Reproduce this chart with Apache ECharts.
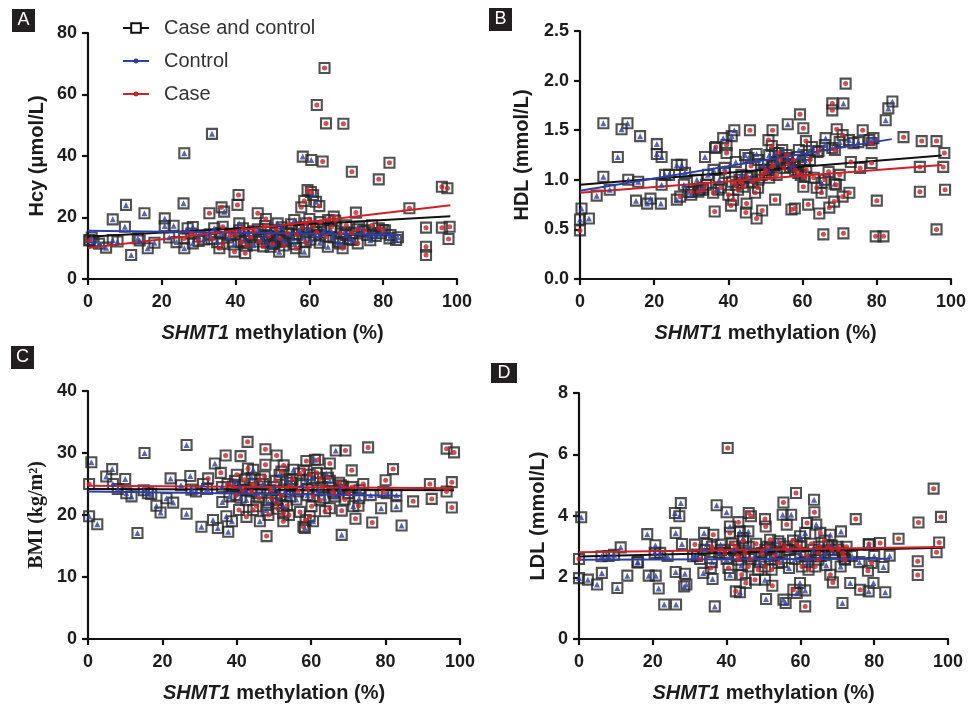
<!DOCTYPE html>
<html>
<head>
<meta charset="utf-8">
<title>SHMT1 methylation scatter</title>
<script src="https://cdn.jsdelivr.net/npm/echarts@6/dist/echarts.min.js"></script>
<style>
  html, body { margin: 0; padding: 0; background: #fff; }
  #chart { width: 970px; height: 708px; }
</style>
</head>
<body>
<div id="chart"></div>
<script>
// ---- data (x = SHMT1 methylation %, y = measure) ----
var hcyControl = [
  [0.4,12.7],[1.5,12.3],[1,13.5],[3,11.5],[4.9,10.2],[6.7,12.7],[6.7,19.4],[8,12.2],[10,17],[10.3,24.1],[11.7,7.8],[13.5,13.2],[14,12.5],[15.3,21.4],[16.2,10],[18,11.8],[20.8,19.7],[20.8,17.2],[22,13.5],[23.2,17.3],[24,12],[25.9,24.6],[26.1,10],[26.1,40.9],[27,16.5],[28.4,16.9],[28.4,11.6],[30,13.8],[31.5,12.9],[33,14.5],[33.6,47.2],[34.2,16.5],[35,12],[36,15],[36.9,21.9],[38,13.5],[39.5,11.2],[41,18.1],[41,15.8],[42.5,12.4],[43.5,14.6],[44.8,11],[46,16.2],[47.2,13.1],[48.2,14.3],[48.5,12],[49.5,10.5],[49.5,15.3],[50.5,11.6],[51.2,13.9],[51.4,18.1],[51.8,8.9],[52.5,16.8],[52.8,12.7],[53.6,12.2],[54.5,14.7],[55.4,13.2],[55.9,19.2],[56,11.3],[57.2,15.9],[58.2,39.8],[58.4,13.4],[58.6,8.9],[59.5,16.5],[60.3,12.8],[60.5,38.7],[61,27.3],[61.5,14.2],[61.8,25.1],[62.7,14.3],[62.8,11.8],[64,16],[65,10.5],[65.8,15.9],[66.5,13.5],[67.8,12.1],[68.3,11.6],[69.5,15.2],[69.9,14.3],[71,13],[71.7,12.7],[73.5,17],[74.5,15.5],[75.7,14.3],[76.5,12.6],[77.1,14.9],[78,14],[79.4,14.9],[80.5,15.8],[81.7,13.2],[82,14.3],[83.5,12.7],[84,13.6]
];
var hcyCase = [
  [0.4,12.5],[26,13.2],[28,14.8],[30,12.4],[32.9,21.4],[33.5,13],[35.6,10],[36.2,23.3],[36.5,17],[36.5,11.5],[38.5,14.2],[39.7,8.9],[40,14.5],[40.5,24.1],[40.8,27.3],[41.5,12],[42,16.5],[42.6,8.4],[43,10.8],[44,13.6],[45,15.5],[46,21.4],[46.5,12.2],[47.5,10.6],[48,17.2],[48.2,19.5],[49,14],[50,11.5],[51,16],[52,13.2],[53,10.9],[54,15],[55,17.8],[56.4,10],[56.5,14.5],[57.8,23.3],[58,16.8],[58.6,25.4],[59,12],[59.1,18.1],[59.5,28.9],[60,19.5],[60.4,28.3],[61,17],[62,15.2],[62,56.6],[62.7,23.7],[63,18.5],[63.6,38.2],[64.5,50.6],[64.1,68.6],[64.5,13.8],[65.1,19.2],[66,16.9],[66.6,20.3],[67,19],[68.5,14.8],[69,10],[69.2,50.5],[70,17.5],[71.5,15],[71.5,34.9],[72.6,21.6],[73,16.2],[73.1,11.6],[75,15.8],[77,17.5],[78.8,16.5],[78.8,32.4],[79.9,15.9],[81.7,37.8],[87.1,23],[91.6,16.7],[91.6,10.5],[91.6,7.8],[95.9,16.7],[95.9,30],[97.4,29.5],[97.7,13],[98,17]
];
var hcyFitAll = [[0,13.7],[98.2,20.4]];
var hcyFitControl = [[0,15.7],[84.2,14.4]];
var hcyFitCase = [[0,10.1],[98.2,24.0]];

var hdlControl = [
  [0,0.6],[0.4,0.71],[2.4,0.61],[4.5,0.84],[6.3,1.57],[6.3,1.03],[8,0.9],[10.2,1.23],[11.2,1.51],[12.8,1.57],[13,1.0],[15.1,0.79],[15.7,0.98],[16.2,1.44],[18.1,0.76],[19,0.81],[20.7,1.36],[20.7,1.26],[21.8,0.76],[22,1.23],[22,0.95],[22.9,1.05],[24,1.05],[26.1,0.8],[26.1,1.15],[27.4,1.15],[28,0.95],[28.3,1.07],[29.2,0.88],[30,0.85],[31.5,1.0],[32.3,0.9],[33,0.92],[33.7,1.23],[34.5,1.05],[36,1.1],[36.4,1.32],[37.3,0.9],[37.5,1.0],[38.6,1.42],[39,1.12],[40.9,1.44],[41.6,1.5],[42,1.18],[43.5,1.05],[44.5,1.25],[45.4,1.22],[46,1.02],[47.6,1.26],[48,1.2],[49.5,1.15],[50.8,1.1],[51,1.25],[52.6,1.27],[53,1.18],[54.5,1.3],[56,1.56],[56,1.22],[56.6,1.13],[57.5,1.15],[58.8,1.23],[59,1.3],[60.6,1.2],[61,1.25],[62.5,1.33],[64,1.28],[65.1,0.97],[66,1.35],[66.2,1.42],[68,1.32],[68.6,0.96],[70,1.38],[71,1.77],[72.5,1.4],[73.7,1.37],[75,1.38],[78,1.4],[79.1,1.42],[82.4,1.6],[83.1,1.72],[84.2,1.79]
];
var hdlCase = [
  [0,0.49],[27,0.83],[30,0.88],[31.9,0.88],[33.2,0.9],[34,0.95],[35.9,0.87],[36.3,0.68],[36.6,1.33],[38,0.92],[39.1,1.07],[39.5,1.35],[39.5,1.27],[40,0.85],[40.7,0.74],[41,0.98],[41.3,0.8],[42,0.95],[42.6,0.9],[43,1.0],[43.6,0.97],[44,0.93],[44.7,0.67],[44.9,0.76],[45,1.03],[45.8,1.5],[46.1,1.14],[46.5,0.98],[47.2,0.87],[47.6,0.61],[48,0.92],[48.1,1.0],[49,1.05],[49.1,0.69],[49.9,1.07],[50,1.1],[50.8,1.4],[51,1.02],[51.7,1.34],[51.7,1.13],[51.9,1.5],[52,1.15],[52.6,0.8],[53,1.05],[53.5,1.27],[54,1.2],[55,1.12],[55.7,1.25],[56,1.16],[57,0.7],[57.5,1.2],[57.9,0.71],[58,1.1],[58.8,1.07],[59.3,1.66],[59.5,1.05],[60.2,1.52],[60.2,0.93],[60.6,1.03],[60.9,1.39],[61,1.1],[61.5,0.75],[62,1.2],[63,1.02],[63.8,0.92],[64.3,1.29],[64.5,0.66],[65.1,0.87],[65.6,0.45],[66,1.0],[67,1.08],[67.2,0.72],[68,1.77],[68,1.7],[68.5,0.78],[68.7,1.3],[69,0.95],[69.2,1.51],[70,1.05],[70.8,1.45],[70.8,0.83],[71,0.46],[71.6,1.97],[72.6,0.87],[73,1.18],[75.5,1.12],[76.2,1.5],[78.6,1.17],[78.6,1.37],[79.7,0.43],[80,0.79],[81.8,0.43],[87.2,1.43],[91.6,1.13],[91.6,0.88],[92.1,1.39],[96.1,1.39],[96.1,0.5],[97.9,1.13],[98.2,1.27],[98.4,0.9]
];
var hdlFitAll = [[0,0.95],[97.5,1.245]];
var hdlFitControl = [[0,0.89],[84,1.41]];
var hdlFitCase = [[0,0.87],[97.5,1.15]];

var bmiControl = [
  [0.3,19.8],[0.9,28.5],[2.5,18.5],[4.9,26.2],[6.5,27.4],[6.7,25.0],[8,24.2],[10,25.8],[10.3,23.5],[11.7,23.0],[13.3,17.1],[15,24.0],[15.2,30.0],[16.1,23.5],[17,23.4],[18.4,21.5],[19.5,20.4],[21.1,22.7],[22.2,25.9],[22.9,22.0],[25,24.8],[26.5,31.3],[26.5,20.2],[27.5,26.3],[27.8,24.1],[29,23.8],[30.5,18.1],[30.9,25.0],[32,24.2],[33.6,19.2],[34.1,28.3],[34.9,17.9],[36,24.5],[36.1,22.1],[37.2,19.8],[37.7,17.3],[38,23.0],[38.7,19.0],[39.5,25.5],[40.8,24.6],[41,22.8],[42.5,24.0],[42.6,22.4],[44,26.0],[44.4,27.3],[45.5,23.5],[46.2,19.0],[47,25.0],[48,20.8],[48.5,22.0],[50,24.5],[50.7,22.4],[51.5,26.5],[52.5,21.4],[53,23.8],[53.4,25.7],[54.3,23.0],[54.5,25.2],[55.2,27.3],[56,22.5],[57.5,24.8],[58.3,17.9],[58.7,25.7],[59,23.2],[60.5,19.0],[60.5,26.0],[61,28.9],[62,24.0],[63.5,22.8],[64.1,26.7],[65,25.5],[66.5,23.0],[66.6,30.4],[67.7,24.1],[68,24.8],[68.2,16.8],[70,23.5],[71.3,21.4],[72.9,22.7],[73,24.0],[76,23.2],[78.8,21.1],[80.3,23.5],[82.9,23.2],[82.9,21.4],[84.3,18.3]
];
var bmiCase = [
  [0.3,25.0],[32.3,25.9],[35.7,26.8],[37,29.6],[37.5,25.0],[39,24.6],[39.9,23.2],[40,26.5],[40.6,20.8],[41,29.5],[41.5,24.0],[42.1,25.7],[42.6,19.7],[42.9,31.8],[43,27.5],[43.9,23.8],[44.4,20.8],[44.5,25.0],[45.3,21.4],[46,22.8],[46.2,25.7],[47.5,26.2],[47.7,30.6],[47.7,28.1],[48,16.6],[48.5,20.0],[49,24.0],[49.3,22.7],[50.5,25.5],[50.7,29.6],[50.7,21.9],[51,21.0],[52,27.0],[52,23.2],[52.5,19.0],[52.5,20.3],[52.6,28.0],[53.5,21.5],[54,20.0],[54.3,24.7],[55,25.8],[56.5,23.8],[56.9,26.7],[57,20.5],[57.9,18.1],[58,27.2],[58.5,19.2],[58.7,28.7],[59,24.2],[59.6,26.5],[59.6,19.8],[60.1,21.4],[60.5,23.0],[61.5,26.8],[61.9,28.9],[62.3,22.4],[62.3,25.9],[63,24.5],[63.7,20.6],[64.5,26.0],[65,28.3],[65,21.1],[65.9,23.8],[66,23.5],[67.5,25.2],[68.2,20.7],[68.6,24.6],[69,22.5],[69.2,30.4],[70,23.5],[70.9,27.2],[71,24.5],[71.9,19.4],[72.7,21.5],[74,25.0],[75.3,30.9],[76.4,18.8],[79.4,23.7],[80,25.6],[82,27.4],[87.4,22.2],[91.9,25.0],[92.4,22.6],[96.4,30.7],[96.4,23.8],[97.8,25.3],[97.8,21.2],[98.4,30.1]
];
var bmiFitAll = [[0,24.2],[98.4,24.0]];
var bmiFitControl = [[0,23.8],[84.3,23.1]];
var bmiFitCase = [[0,24.7],[98.4,24.3]];

var ldlControl = [
  [0,1.98],[0.6,3.96],[2.4,1.93],[4.9,1.77],[6.1,2.69],[6.2,2.15],[8,2.7],[9.5,2.74],[10.4,1.66],[11.3,2.98],[13.1,2.06],[15.8,2.49],[16,2.5],[18.5,3.41],[18.9,2.06],[20.5,2.8],[20.7,3.05],[20.8,2.06],[21.6,1.64],[22,2.8],[23.1,1.12],[24,2.7],[26,4.1],[26.2,3.45],[26.2,2.18],[26.3,1.12],[27.2,3.99],[27.6,4.42],[27.9,3.09],[28.5,1.71],[28.7,2.12],[29.1,1.77],[30.9,2.69],[32,2.7],[33.7,2.15],[33.9,3.45],[34,2.9],[34.7,3.09],[36,2.5],[36.2,1.95],[36.8,1.06],[37.3,4.35],[38,2.8],[38.4,3.07],[40,4.12],[40,2.6],[40.9,3.66],[40.9,2.09],[42,2.9],[43.6,1.52],[43.6,3.5],[44,2.4],[44.5,3.28],[45.9,3.5],[46,3.0],[47.5,2.7],[49,2.5],[50.4,1.93],[50.5,2.9],[50.7,1.3],[51.8,2.96],[52,2.6],[53.5,2.8],[54,3.18],[55,2.5],[55.2,4.04],[55.4,1.28],[56,1.17],[56.9,2.31],[57,2.9],[57.5,4.04],[58.5,2.6],[59,1.5],[59.9,1.82],[59.9,3.34],[60,2.8],[61.3,1.58],[61.3,3.45],[62,2.5],[63.5,2.9],[63.7,4.53],[64.3,3.72],[65.5,2.7],[66.7,2.8],[67,2.4],[68.1,3.39],[68.5,3.04],[69,2.8],[70.9,2.36],[71,3.5],[71.4,1.17],[72,2.6],[73.5,1.82],[74,2.7],[76,2.5],[78.5,1.55],[78.5,3.07],[79.8,1.82],[80,2.7],[82.5,2.34],[83,1.52],[84.2,2.71]
];
var ldlCase = [
  [0,2.6],[31.4,3.07],[32.8,2.6],[35.7,2.31],[36,3.0],[36.4,3.39],[38.5,2.9],[39.5,2.8],[40.3,6.21],[40.5,2.31],[40.9,3.45],[41.5,3.1],[42.3,3.01],[42.5,1.55],[43,2.7],[43.2,3.8],[43.2,2.58],[44.1,2.09],[44.5,3.2],[45,2.8],[45.2,1.82],[45.9,2.36],[46,4.1],[46.5,2.6],[46.6,3.99],[47.7,1.93],[48,3.1],[48.6,2.25],[49.5,2.8],[50.4,3.9],[50.4,2.36],[50.6,3.66],[51,3.0],[51.8,3.23],[52.2,2.25],[52.4,1.73],[53,2.7],[54,2.47],[54.5,3.1],[55.4,4.44],[55.8,3.01],[56.3,3.72],[56.5,2.9],[58,3.2],[58.1,1.6],[58.8,4.75],[59,3.07],[60,3.0],[60.4,2.36],[61.3,1.06],[61.5,2.7],[61.8,3.77],[62.2,2.25],[63,3.1],[63.8,4.12],[64,2.36],[64.9,2.8],[64.9,2.58],[65,3.0],[65.4,3.45],[66.5,3.2],[67.6,3.01],[68.1,2.09],[68.5,2.9],[68.8,1.84],[70,3.0],[70.3,2.91],[71.5,2.8],[71.7,2.69],[72.1,2.58],[72.5,3.0],[75,3.9],[76.2,1.6],[78.3,2.22],[78.6,3.09],[79.3,2.47],[81.6,3.12],[86.6,3.26],[91.8,2.53],[91.8,2.08],[92,3.79],[96.1,4.89],[96.9,2.82],[97.6,3.14],[98.1,3.97]
];
var ldlFitAll = [[0,2.68],[98.4,2.97]];
var ldlFitControl = [[0,2.58],[84.3,2.61]];
var ldlFitCase = [[0,2.82],[98.4,2.99]];

var panelLetters = ['A', 'B', 'C', 'D'];
var yNames = ['Hcy (μmol/L)', 'HDL (mmol/L)', 'BMI (kg/m²)', 'LDL (mmol/L)'];
var xName = '{i|SHMT1} methylation (%)';

// ---- layout ----
var SANS = 'Arial, "Liberation Sans", Helvetica, sans-serif';
var SERIF = '"Times New Roman", "Liberation Serif", serif';
var BLUE = '#2d3ea6';
var RED = '#cf1f27';
var BLACK = '#111';

var panels = [
  { grid: { left: 88, top: 33, width: 369, height: 246 }, max: 80, interval: 20, gap: 41, font: SANS,
    control: hcyControl, cases: hcyCase, fit: [hcyFitAll, hcyFitControl, hcyFitCase],
    box: [12, 9, 23, 23] },
  { grid: { left: 580, top: 31, width: 371, height: 248 }, max: 2.5, interval: 0.5, gap: 48, font: SANS, decimals: 1,
    control: hdlControl, cases: hdlCase, fit: [hdlFitAll, hdlFitControl, hdlFitCase],
    box: [489, 8, 23, 23] },
  { grid: { left: 88, top: 391, width: 372, height: 248 }, max: 40, interval: 10, gap: 41, font: SERIF,
    control: bmiControl, cases: bmiCase, fit: [bmiFitAll, bmiFitControl, bmiFitCase],
    box: [11, 346, 23, 23] },
  { grid: { left: 579, top: 393, width: 369, height: 246 }, max: 8, interval: 2, gap: 31, font: SANS,
    control: ldlControl, cases: ldlCase, fit: [ldlFitAll, ldlFitControl, ldlFitCase],
    box: [491, 363, 26, 20] }
];

var axisLine = { lineStyle: { color: BLACK, width: 2.2 } };
var axisTick = { length: 6, lineStyle: { color: BLACK, width: 2.2 } };
var tickLabel = { fontSize: 18, fontWeight: 'bold', color: '#1c1c1c', fontFamily: SANS };

function lineSeries(name, data, color, symbol, i) {
  return {
    type: 'line', name: name, data: data, xAxisIndex: i, yAxisIndex: i,
    showSymbol: false, symbol: symbol,
    lineStyle: { color: color, width: 2 },
    itemStyle: { color: color },
    emphasis: { disabled: true },
    z: 3
  };
}

var grids = [], xAxes = [], yAxes = [], series = [], graphics = [];

panels.forEach(function (p, i) {
  grids.push(p.grid);
  xAxes.push({
    type: 'value', gridIndex: i, min: 0, max: 100, interval: 20,
    axisLine: axisLine, axisTick: axisTick, splitLine: { show: false },
    axisLabel: Object.assign({ margin: 14 }, tickLabel),
    name: xName, nameLocation: 'middle', nameGap: 44,
    nameTextStyle: {
      fontSize: 20, fontWeight: 'bold', color: '#1c1c1c', fontFamily: SANS,
      rich: { i: { fontSize: 20, fontWeight: 'bold', fontStyle: 'italic', color: '#1c1c1c', fontFamily: SANS } }
    }
  });
  yAxes.push({
    type: 'value', gridIndex: i, min: 0, max: p.max, interval: p.interval,
    axisLine: Object.assign({ show: true }, axisLine), axisTick: Object.assign({ show: true }, axisTick),
    splitLine: { show: false },
    axisLabel: Object.assign({
      margin: 11,
      formatter: function (v) { return p.decimals ? v.toFixed(p.decimals) : String(v); }
    }, tickLabel),
    name: yNames[i], nameLocation: 'middle', nameGap: p.gap,
    nameTextStyle: { fontSize: 20, fontWeight: 'bold', color: '#1c1c1c', fontFamily: p.font }
  });

  // squares for every subject, then fitted lines, then group markers on top
  series.push({
    type: 'scatter', name: 'Case and control points', xAxisIndex: i, yAxisIndex: i,
    data: p.control.concat(p.cases), symbol: 'rect', symbolSize: 10,
    itemStyle: { color: 'rgba(255,255,255,0)', borderColor: '#262626', borderWidth: 2.1 },
    emphasis: { disabled: true }, z: 2
  });
  series.push(lineSeries('Case and control', p.fit[0], BLACK, 'emptyRect', i));
  series.push(lineSeries('Control', p.fit[1], BLUE, 'circle', i));
  series.push(lineSeries('Case', p.fit[2], RED, 'circle', i));
  series.push({
    type: 'scatter', name: 'Control points', xAxisIndex: i, yAxisIndex: i,
    data: p.control, symbol: 'triangle', symbolSize: 6,
    itemStyle: { color: BLUE }, emphasis: { disabled: true }, z: 4
  });
  series.push({
    type: 'scatter', name: 'Case points', xAxisIndex: i, yAxisIndex: i,
    data: p.cases, symbol: 'circle', symbolSize: 5,
    itemStyle: { color: RED }, emphasis: { disabled: true }, z: 4
  });

  // panel letter box
  graphics.push({
    type: 'rect',
    shape: { x: p.box[0], y: p.box[1], width: p.box[2], height: p.box[3] },
    style: { fill: '#231f20' },
    textContent: { style: { text: panelLetters[i], fill: '#fff', font: '18px ' + SANS } },
    textConfig: { position: 'inside' }
  });
});

var legendText = { fontSize: 20, color: '#333', fontFamily: SANS, padding: [0, 0, 0, 10] };
function legendItem(name, top, h) {
  return {
    data: [name], left: 122, top: top, padding: 0, itemWidth: 26, itemHeight: h,
    selectedMode: false, textStyle: legendText
  };
}

var chart = echarts.init(document.getElementById('chart'), null, { renderer: 'canvas' });
chart.setOption({
  animation: false,
  backgroundColor: '#fff',
  grid: grids,
  xAxis: xAxes,
  yAxis: yAxes,
  legend: [
    legendItem('Case and control', 18, 12),
    legendItem('Control', 51, 6),
    legendItem('Case', 84, 6)
  ],
  graphic: graphics,
  series: series
});
</script>
</body>
</html>
